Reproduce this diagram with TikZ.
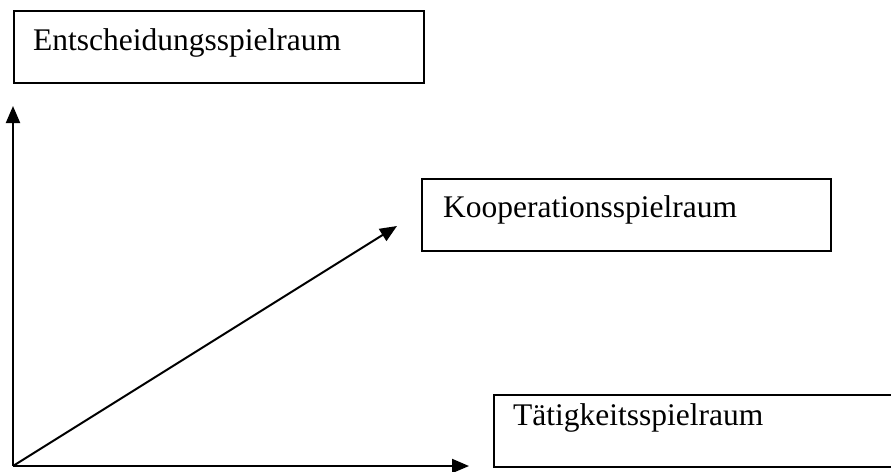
\documentclass[tikz,border=0pt]{standalone}
\usepackage{fontspec}
\setmainfont{Liberation Serif}
\usetikzlibrary{arrows.meta}
\begin{document}
\begin{tikzpicture}[x=1pt,y=-1pt,
  box/.style={draw=black,line width=1.7pt,rectangle,inner sep=0pt,anchor=north west},
  lbl/.style={anchor=base west,inner sep=0pt,font=\fontsize{31.5}{36}\selectfont},
  axis/.style={line width=2pt,-{Triangle[length=17pt,width=14pt]}}]
\useasboundingbox (0,0) rectangle (891,471);
\clip (0,0) rectangle (891,471);
\node[box,minimum width=410pt,minimum height=72pt] (ent) at (13,10) {};
\node[lbl] (entl) at (33,50) {Entscheidungsspielraum};
\node[box,minimum width=409pt,minimum height=72pt] (koop) at (421,178) {};
\node[lbl] (koopl) at (443,217) {Kooperationsspielraum};
\node[box,minimum width=420pt,minimum height=72pt] (tat) at (493,394) {};
\node[lbl] (tatl) at (513,425) {Tätigkeitsspielraum};
\coordinate (O) at (13,466);
\coordinate (Y) at (13,106);
\coordinate (X) at (469,466);
\coordinate (D) at (397,226);
\draw[axis] (O) -- (Y);
\draw[axis] (O) -- (X);
\draw[axis] (O) -- (D);
\end{tikzpicture}
\end{document}
